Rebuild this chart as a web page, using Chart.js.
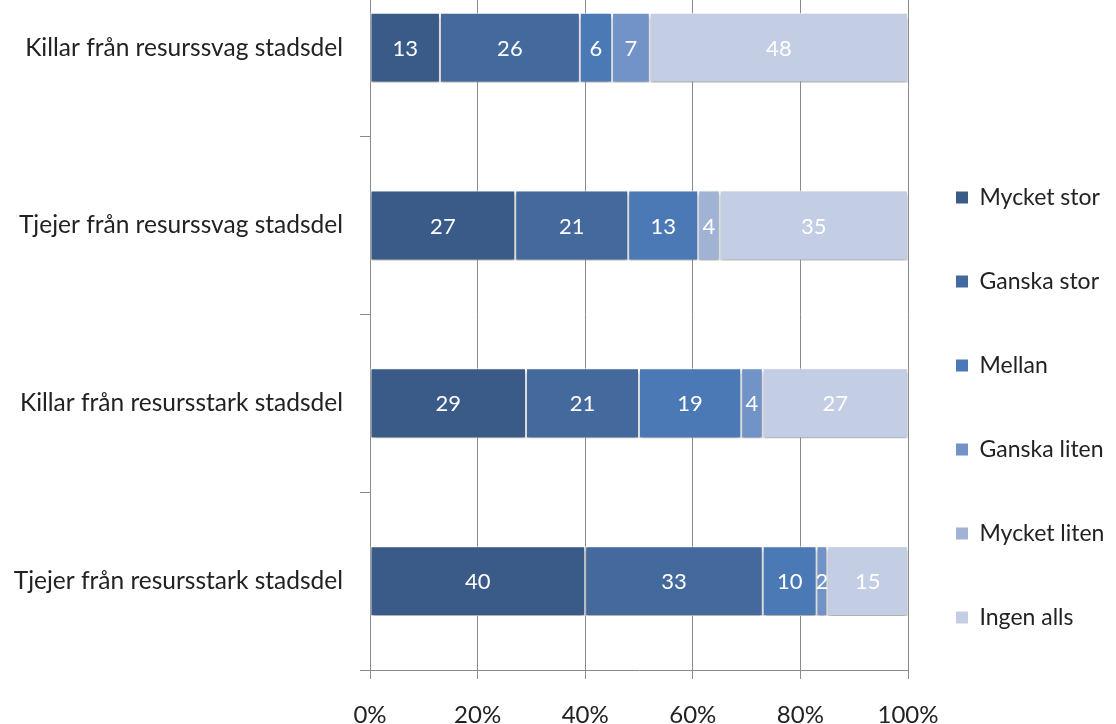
<!DOCTYPE html>
<html>
<head>
<meta charset="utf-8">
<script src="https://cdn.jsdelivr.net/npm/chart.js@4.4.0/dist/chart.umd.min.js"></script>
<style>
  html, body { margin: 0; padding: 0; background: #fff; overflow: hidden; }
  #wrap { position: absolute; left: 0; top: -73px; width: 1116px; height: 800px; }
</style>
</head>
<body>
<div id="wrap"><canvas id="chart" width="1116" height="800"></canvas></div>
<script>
const categories = [
  "Killar från resurssvag stadsdel",
  "Tjejer från resurssvag stadsdel",
  "Killar från resursstark stadsdel",
  "Tjejer från resursstark stadsdel",
];
const seriesNames = ["Mycket stor", "Ganska stor", "Mellan", "Ganska liten", "Mycket liten", "Ingen alls"];
const mycketStor = [13, 27, 29, 40];
const ganskaStor = [26, 21, 21, 33];
const mellan = [6, 13, 19, 10];
const ganskaLiten = [7, 0, 4, 2];
const mycketLiten = [0, 4, 0, 0];
const ingenAlls = [48, 35, 27, 15];
const seriesColors = ["#3a5b88", "#43699d", "#4a79b6", "#7293c7", "#a0b3d5", "#c3cde3"];

const FONT = "Lato, 'Open Sans', sans-serif";

// skugga under staplarna
const barShadow = {
  id: "barShadow",
  beforeDatasetsDraw(chart) {
    const c = chart.ctx;
    c.save();
    c.shadowColor = "rgba(0, 0, 0, 0.35)";
    c.shadowBlur = 4;
    c.shadowOffsetY = 3;
  },
  afterDatasetsDraw(chart) {
    chart.ctx.restore();
  },
};

// värden mitt i varje segment
const barValues = {
  id: "barValues",
  afterDatasetsDraw(chart) {
    const ctx = chart.ctx;
    ctx.save();
    ctx.font = "22px " + FONT;
    ctx.fillStyle = "#ffffff";
    ctx.textAlign = "center";
    ctx.textBaseline = "middle";
    chart.data.datasets.forEach((ds, di) => {
      chart.getDatasetMeta(di).data.forEach((bar, i) => {
        const v = ds.data[i];
        if (!v) return;
        const p = bar.getProps(["x", "y", "base", "height"], true);
        ctx.save();
        ctx.beginPath();
        ctx.rect(Math.min(p.base, p.x), p.y - p.height / 2, Math.abs(p.x - p.base), p.height);
        ctx.clip();
        ctx.fillText(String(v), (p.x + p.base) / 2, p.y + 1);
        ctx.restore();
      });
    });
    ctx.restore();
  },
};

// flytta förklaringen så den hamnar som i originalet
const legendShift = {
  id: "legendShift",
  afterLayout(chart) {
    const l = chart.legend;
    l.top += 71;
    l.bottom += 71;
    l.left -= 13;
  },
};

const seriesData = [mycketStor, ganskaStor, mellan, ganskaLiten, mycketLiten, ingenAlls];

const chart = new Chart(document.getElementById("chart"), {
  type: "bar",
  data: {
    labels: categories,
    datasets: seriesNames.map((name, k) => ({
      label: name,
      data: seriesData[k],
      backgroundColor: seriesColors[k],
      borderColor: "#ffffff",
      borderWidth: 1,
      borderSkipped: false,
      barPercentage: 0.393,
      categoryPercentage: 1,
    })),
  },
  options: {
    indexAxis: "y",
    responsive: false,
    animation: false,
    layout: { padding: { top: 19, right: 0, bottom: 0, left: 0 } },
    plugins: {
      tooltip: { enabled: false },
      legend: {
        position: "right",
        align: "center",
        maxWidth: 208,
        labels: {
          boxWidth: 12,
          boxHeight: 12,
          padding: 61,
          color: "#222",
          font: { family: FONT, size: 23 },
          generateLabels: (c) =>
            Chart.defaults.plugins.legend.labels.generateLabels(c).map((it) => ({
              ...it,
              lineWidth: 0,
              strokeStyle: it.fillStyle,
            })),
        },
      },
    },
    scales: {
      x: {
        stacked: true,
        min: 0,
        max: 100,
        ticks: {
          stepSize: 20,
          padding: 22,
          color: "#222",
          font: { family: FONT, size: 24 },
          callback: (v) => v + "%",
        },
        grid: { color: "#8a8a8a", tickLength: 9 },
        border: { color: "#8a8a8a" },
        afterFit: (s) => {
          s.height = 57;
        },
      },
      y: {
        stacked: true,
        ticks: {
          padding: 17,
          color: "#222",
          font: { family: FONT, size: 24.5 },
        },
        grid: { drawOnChartArea: false, tickLength: 10, color: "#8a8a8a", offset: true },
        border: { color: "#8a8a8a" },
        afterFit: (s) => {
          s.width = 370;
        },
      },
    },
  },
  plugins: [barShadow, barValues, legendShift],
});
</script>
</body>
</html>
